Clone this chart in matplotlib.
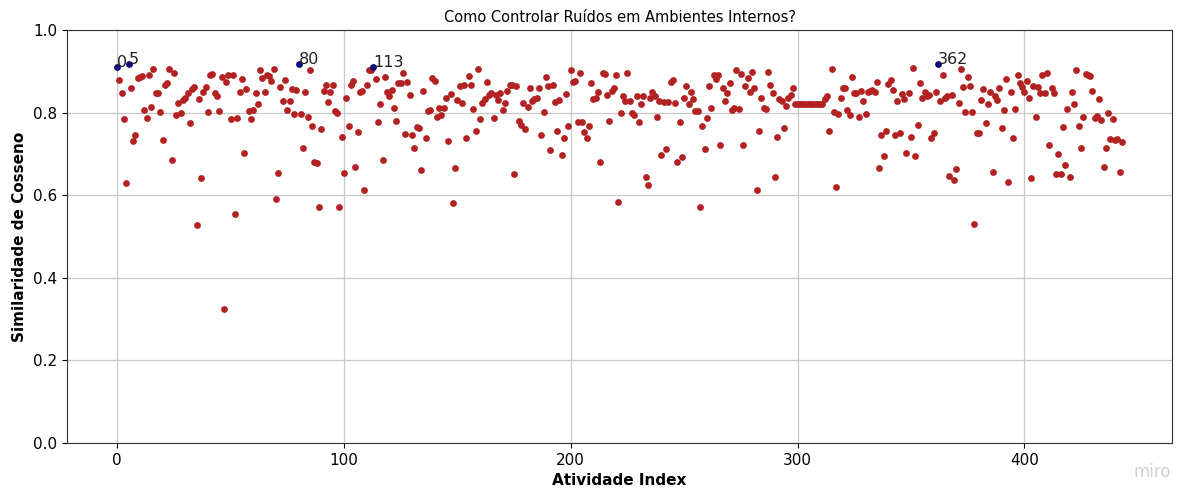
import numpy as np
import matplotlib
matplotlib.use("Agg")
import matplotlib.pyplot as plt

# Cosine similarity per activity, split into blocks of 100 activities
sim_000_099 = [
    0.911, 0.879, 0.847, 0.784, 0.629, 0.918, 0.860, 0.732, 0.746, 0.883,
    0.885, 0.889, 0.806, 0.786, 0.891, 0.813, 0.906, 0.847, 0.847, 0.801,
    0.733, 0.867, 0.871, 0.906, 0.685, 0.895, 0.793, 0.823, 0.798, 0.831,
    0.836, 0.847, 0.776, 0.857, 0.862, 0.528, 0.834, 0.642, 0.851, 0.863,
    0.802, 0.891, 0.893, 0.847, 0.840, 0.803, 0.887, 0.325, 0.873, 0.891,
    0.784, 0.891, 0.554, 0.788, 0.849, 0.881, 0.703, 0.857, 0.804, 0.785,
    0.806, 0.847, 0.820, 0.902, 0.883, 0.851, 0.891, 0.889, 0.877, 0.906,
    0.590, 0.653, 0.863, 0.829, 0.879, 0.806, 0.829, 0.857, 0.796, 0.855,
    0.917, 0.796, 0.715, 0.851, 0.790, 0.902, 0.768, 0.681, 0.677, 0.571,
    0.760, 0.853, 0.867, 0.825, 0.851, 0.868, 0.804, 0.798, 0.571, 0.742,
]
sim_100_199 = [
    0.653, 0.836, 0.768, 0.868, 0.877, 0.669, 0.754, 0.851, 0.853, 0.613,
    0.867, 0.903, 0.902, 0.910, 0.881, 0.778, 0.821, 0.685, 0.885, 0.849,
    0.841, 0.855, 0.810, 0.780, 0.871, 0.871, 0.897, 0.747, 0.873, 0.843,
    0.746, 0.715, 0.766, 0.762, 0.660, 0.853, 0.739, 0.804, 0.806, 0.883,
    0.877, 0.790, 0.810, 0.793, 0.810, 0.835, 0.732, 0.844, 0.580, 0.665,
    0.831, 0.864, 0.823, 0.867, 0.738, 0.889, 0.867, 0.808, 0.756, 0.906,
    0.784, 0.824, 0.834, 0.873, 0.843, 0.847, 0.786, 0.843, 0.831, 0.848,
    0.806, 0.824, 0.853, 0.868, 0.868, 0.651, 0.865, 0.780, 0.770, 0.824,
    0.760, 0.814, 0.859, 0.827, 0.832, 0.836, 0.860, 0.746, 0.802, 0.885,
    0.865, 0.710, 0.867, 0.825, 0.756, 0.831, 0.697, 0.738, 0.844, 0.768,
]
sim_200_299 = [
    0.903, 0.873, 0.877, 0.778, 0.897, 0.777, 0.754, 0.738, 0.768, 0.871,
    0.832, 0.835, 0.851, 0.681, 0.897, 0.894, 0.843, 0.780, 0.853, 0.859,
    0.891, 0.583, 0.798, 0.841, 0.829, 0.897, 0.828, 0.798, 0.794, 0.841,
    0.778, 0.822, 0.841, 0.643, 0.625, 0.835, 0.849, 0.840, 0.789, 0.828,
    0.697, 0.826, 0.713, 0.825, 0.873, 0.879, 0.824, 0.681, 0.778, 0.692,
    0.835, 0.865, 0.822, 0.851, 0.832, 0.804, 0.804, 0.572, 0.768, 0.711,
    0.786, 0.865, 0.810, 0.891, 0.881, 0.891, 0.722, 0.859, 0.829, 0.847,
    0.871, 0.806, 0.810, 0.902, 0.808, 0.893, 0.722, 0.864, 0.883, 0.851,
    0.899, 0.859, 0.613, 0.756, 0.835, 0.810, 0.808, 0.899, 0.867, 0.847,
    0.645, 0.740, 0.832, 0.827, 0.762, 0.817, 0.836, 0.843, 0.860, 0.820,
]
sim_300_399 = [
    0.820, 0.820, 0.820, 0.820, 0.820, 0.820, 0.820, 0.820, 0.820, 0.820,
    0.820, 0.820, 0.832, 0.839, 0.756, 0.906, 0.801, 0.621, 0.796, 0.836,
    0.859, 0.859, 0.806, 0.794, 0.885, 0.847, 0.847, 0.790, 0.853, 0.829,
    0.796, 0.851, 0.853, 0.855, 0.851, 0.875, 0.665, 0.746, 0.694, 0.756,
    0.869, 0.879, 0.855, 0.746, 0.829, 0.750, 0.844, 0.832, 0.702, 0.848,
    0.740, 0.907, 0.695, 0.770, 0.871, 0.835, 0.851, 0.839, 0.843, 0.738,
    0.750, 0.851, 0.917, 0.829, 0.891, 0.835, 0.839, 0.647, 0.843, 0.637,
    0.664, 0.824, 0.906, 0.863, 0.802, 0.885, 0.865, 0.801, 0.530, 0.750,
    0.750, 0.831, 0.857, 0.774, 0.820, 0.851, 0.655, 0.839, 0.831, 0.860,
    0.762, 0.806, 0.881, 0.631, 0.851, 0.738, 0.808, 0.891, 0.871, 0.863,
]
sim_400_443 = [
    0.849, 0.877, 0.836, 0.641, 0.865, 0.790, 0.863, 0.847, 0.891, 0.848,
    0.895, 0.722, 0.859, 0.847, 0.651, 0.700, 0.651, 0.764, 0.672, 0.808,
    0.643, 0.851, 0.820, 0.902, 0.768, 0.715, 0.789, 0.893, 0.891, 0.889,
    0.853, 0.788, 0.792, 0.832, 0.782, 0.669, 0.714, 0.800, 0.735, 0.784,
    0.734, 0.735, 0.657, 0.730,
]

# Activities highlighted and labelled with their index
top_activities = [0, 5, 80, 113, 362]

similarity = np.array(sim_000_099 + sim_100_199 + sim_200_299
                      + sim_300_399 + sim_400_443)
assert len(similarity) == 444
activity = np.arange(len(similarity))

is_top = np.isin(activity, top_activities)

fig = plt.figure(figsize=(11.77, 4.91), dpi=100)
ax = fig.add_axes([0.0569, 0.0978, 0.9389, 0.8411])

ax.scatter(activity[~is_top], similarity[~is_top], color="#b22222", s=24,
           zorder=3, linewidths=0)
ax.scatter(activity[is_top], similarity[is_top], color="#0b0b78", s=24,
           zorder=4, linewidths=0)
for i in top_activities:
    ax.annotate(str(i), (activity[i], similarity[i]), fontsize=11.5,
                color="#222222", zorder=5)

ax.set_ylim(0, 1.0)
ax.set_title("Como Controlar Ruídos em Ambientes Internos?", fontsize=10.5)
ax.set_xlabel("Atividade Index", fontsize=11, fontweight="bold")
ax.set_ylabel("Similaridade de Cosseno", fontsize=11, fontweight="bold")
ax.tick_params(labelsize=11)
ax.grid(True, color="#c8c8c8", linewidth=0.9)
ax.set_axisbelow(True)
for spine in ax.spines.values():
    spine.set_color("#333333")

fig.text(0.979, 0.039, "miro", color="#d0d0d0", fontsize=12,
         ha="center", va="center")

fig.savefig("out.png", dpi=100)
